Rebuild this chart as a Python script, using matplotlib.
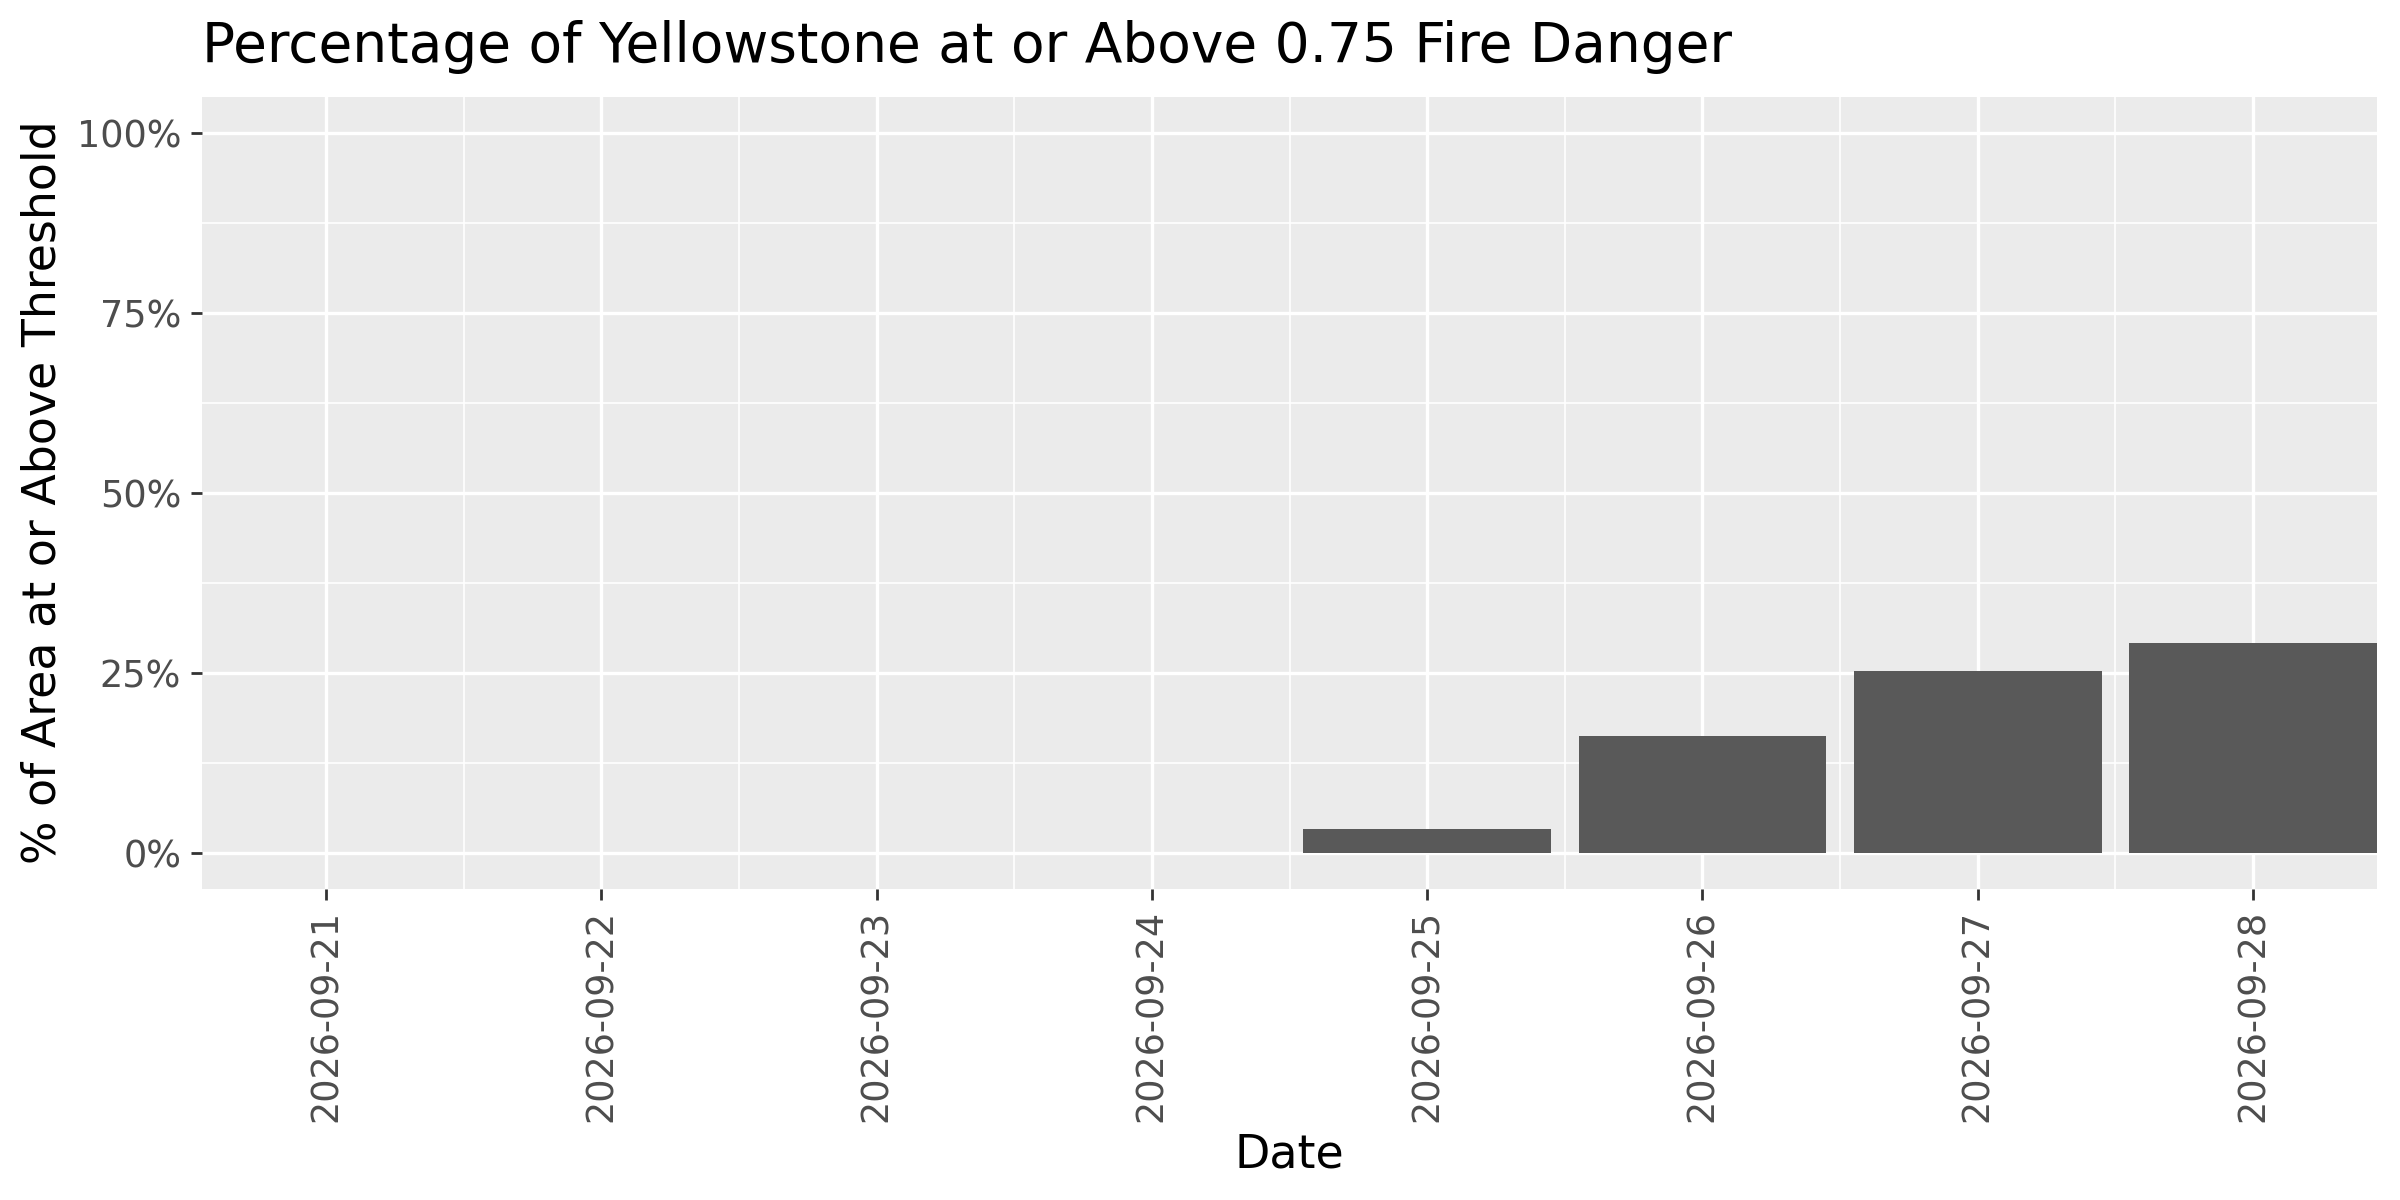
import matplotlib
matplotlib.use("Agg")
import matplotlib.pyplot as plt
from matplotlib.ticker import FixedLocator

dates = ["2026-09-21", "2026-09-22", "2026-09-23", "2026-09-24",
         "2026-09-25", "2026-09-26", "2026-09-27", "2026-09-28"]
pct_values = [0.0, 0.0, 0.0, 0.0, 3.3, 16.2, 25.3, 29.1]
y_ticks = [0, 25, 50, 75, 100]
y_tick_labels = ["0%", "25%", "50%", "75%", "100%"]

plt.rcParams['font.family'] = ['DejaVu Sans']

fig = plt.figure(figsize=(12, 6), dpi=200)
ax = fig.add_axes([202/2400, 1-889/1200, (2377-202)/2400, (889-96.7)/1200])
ax.set_facecolor("#EBEBEB")

x = list(range(1, len(dates) + 1))
ax.bar(x, pct_values, width=0.9, color="#595959", zorder=3)

ax.set_xlim(0.55, 8.45)
ax.set_ylim(-5, 105)

ax.set_yticks(y_ticks)
ax.set_yticklabels(y_tick_labels)
ax.yaxis.set_minor_locator(FixedLocator([12.5, 37.5, 62.5, 87.5]))
ax.set_xticks(x)
ax.set_xticklabels(dates, rotation=90, va="top", ha="center")
ax.xaxis.set_minor_locator(FixedLocator([i + 0.5 for i in x[:-1]]))

ax.grid(which="major", color="white", linewidth=1.2, zorder=1)
ax.grid(which="minor", color="white", linewidth=0.6, zorder=1)
ax.set_axisbelow(True)

for s in ax.spines.values():
    s.set_visible(False)

ax.tick_params(axis="both", which="major", length=4, width=1.0, color="#333333",
               labelsize=13.2, labelcolor="#4D4D4D", pad=3.5)
ax.tick_params(axis="both", which="minor", length=0)

fig.text(202/2400, 1-61.7/1200, "Percentage of Yellowstone at or Above 0.75 Fire Danger",
         fontsize=19.8, ha="left", va="baseline", color="black")
fig.text(43/2400, 1-492/1200, "% of Area at or Above Threshold", fontsize=16.5,
         rotation=90, ha="center", va="center", color="black")
fig.text((202+2377)/2/2400, 1-1167/1200, "Date", fontsize=16.5,
         ha="center", va="baseline", color="black")

fig.savefig("out.png", dpi=200, facecolor="white")
